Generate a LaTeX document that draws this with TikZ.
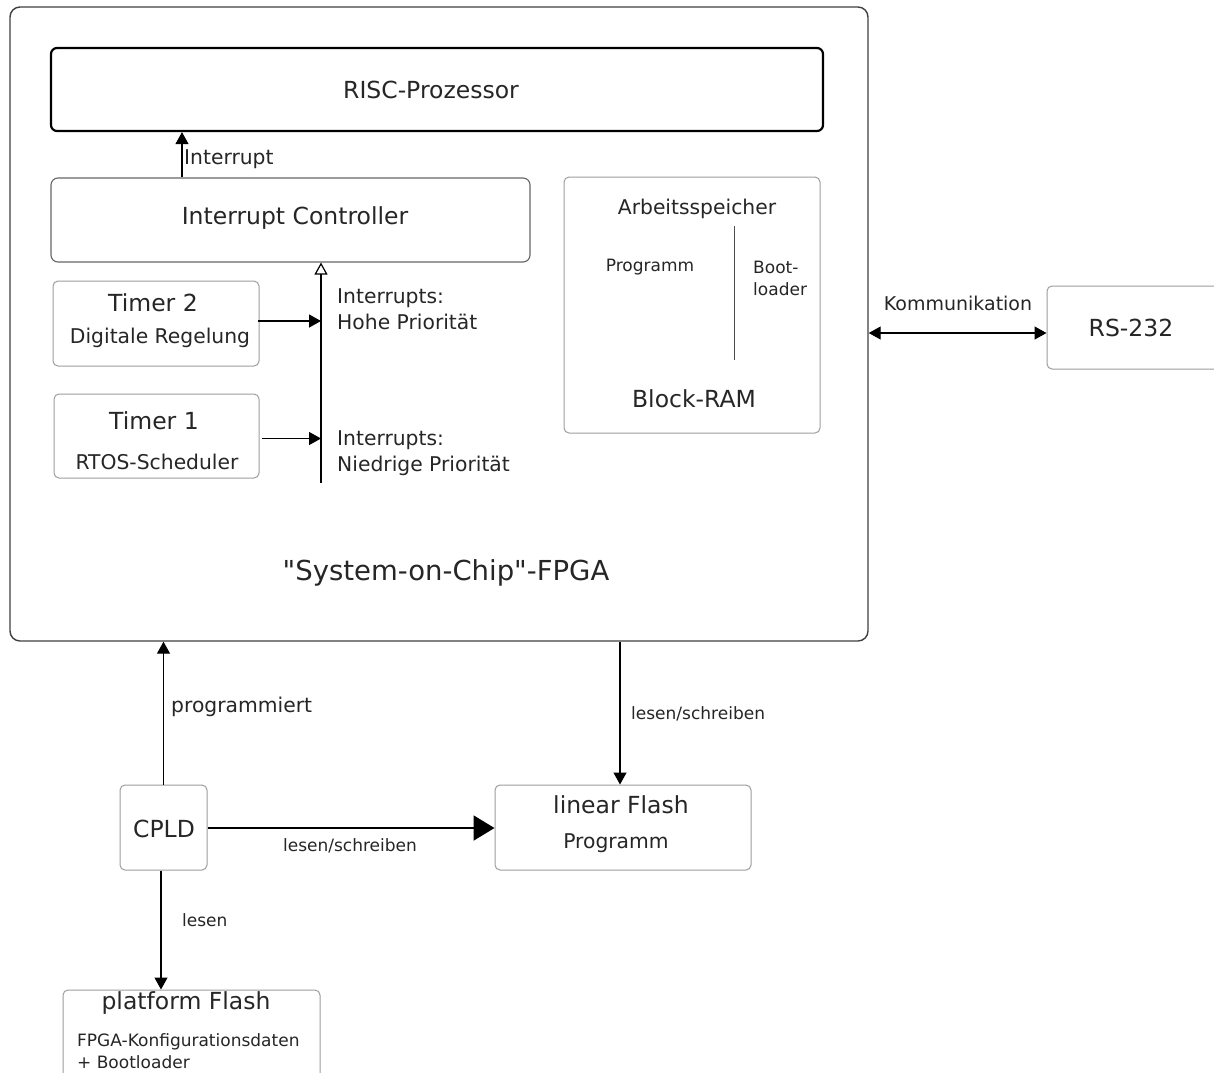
\documentclass[tikz,border=0pt]{standalone}
\usepackage{fontspec}
\setmainfont{DejaVu Sans}[Ligatures=TeXOff]
\usetikzlibrary{arrows.meta}
\begin{document}
\begin{tikzpicture}[x=1pt,y=-1pt,
  thinbox/.style={draw=black!38, line width=1pt, rounded corners=5pt, inner sep=0pt},
  midbox/.style={draw=black!60, line width=1.1pt, rounded corners=7pt, inner sep=0pt},
  txt/.style={inner sep=0pt, text=black!85},
  f17/.style={font=\fontsize{17}{22}\selectfont},
  f19/.style={font=\fontsize{19}{24}\selectfont},
  f20/.style={font=\fontsize{20.3}{26}\selectfont},
  f23/.style={font=\fontsize{23.5}{28}\selectfont},
  f27/.style={font=\fontsize{27.5}{32}\selectfont},
  >={Triangle[length=12pt,width=13pt]},
  arr/.style={draw=black, line width=1.2pt, ->},
]
\clip (0,0) rectangle (1214,1072);
\fill[white] (0,0) rectangle (1214,1072);

% System-on-Chip frame
\node[draw=black!75, line width=1.4pt, rounded corners=10pt, inner sep=0pt,
      minimum width=858pt, minimum height=634pt] (soc) at (439,324) {};
\node[txt,f27] (soclabel) at (446,573) {"System-on-Chip"-FPGA};

% processor and interrupt controller
\node[draw=black, line width=2.2pt, rounded corners=6pt, inner sep=0pt,
      minimum width=772pt, minimum height=83pt] (risc) at (437,89.5) {};
\node[txt,f23] (risclabel) at (431,90) {RISC-Prozessor};

\node[midbox, minimum width=479pt, minimum height=84pt] (ic) at (290.5,220) {};
\node[txt,f23] (iclabel) at (295,218) {Interrupt Controller};

% timers
\node[thinbox, minimum width=206pt, minimum height=85pt] (t2) at (156,323.5) {};
\node[txt,f23] (t2a) at (153,303) {Timer 2};
\node[txt,f20] (t2b) at (160,338) {Digitale Regelung};

\node[thinbox, minimum width=205pt, minimum height=84pt] (t1) at (156.5,436) {};
\node[txt,f23] (t1a) at (154,421) {Timer 1};
\node[txt,f20] (t1b) at (157,462) {RTOS-Scheduler};

% block RAM
\node[thinbox, minimum width=256pt, minimum height=256pt] (bram) at (692,305) {};
\node[txt,f20] (bramtop) at (697,209) {Arbeitsspeicher};
\node[txt,f17] (bramprog) at (650,267) {Programm};
\node[txt,f17, align=left, anchor=west] (bramboot) at (753,278) {Boot-\\loader};
\node[txt,f23] (bramname) at (694,399) {Block-RAM};
\coordinate (splittop) at (734,226);
\coordinate (splitbot) at (734,360);
\draw[black!70, line width=1pt] (splittop) -- (splitbot);

% interrupt path
\coordinate (irqx) at (182,0);
\draw[arr] (ic.north -| irqx) -- (risc.south -| irqx);
\node[txt,f20, anchor=west] (irqlabel) at (184,159) {Interrupt};

\coordinate (busend) at (321,483);
\draw[draw=black, line width=1.2pt, -{Triangle[open,length=12pt,width=13pt]}] (busend) -- (ic.south -| busend);
\draw[arr] ([xshift=-2pt,yshift=2.5pt]t2.east) -- ([yshift=2.5pt]t2.east -| busend);
\draw[arr] ([xshift=2pt,yshift=-2.5pt]t1.east) -- ([yshift=-2.5pt]t1.east -| busend);
\node[txt,f20, align=left, anchor=west] (hiprio) at (337,309) {Interrupts:\\Hohe Priorität};
\node[txt,f20, align=left, anchor=west] (loprio) at (337,453) {Interrupts:\\Niedrige Priorität};

% serial link
\node[thinbox, minimum width=213pt, minimum height=83pt] (rs) at (1153.5,327.5) {};
\node[txt,f23] (rslabel) at (1131,328) {RS-232};
\coordinate (commy) at (0,333);
\draw[draw=black, line width=1.2pt, <->]
  (soc.east |- commy) -- (rs.west |- commy);
\node[txt,f19] (commlabel) at (958,303) {Kommunikation};

% external parts
\node[thinbox, minimum width=87pt, minimum height=85pt] (cpld) at (163.5,827.5) {};
\node[txt,f23] (cpldlabel) at (164,829) {CPLD};

\node[thinbox, minimum width=256pt, minimum height=85pt] (lf) at (623,827.5) {};
\node[txt,f23] (lfa) at (621,805) {linear Flash};
\node[txt,f20] (lfb) at (616,843) {Programm};

\node[thinbox, minimum width=257pt, minimum height=120pt] (pf) at (191.5,1050) {};
\node[txt,f23] (pfa) at (186,1003) {platform Flash};
\node[txt,f17, align=left, anchor=west] (pfb) at (77,1051) {FPGA-Konfigurationsdaten\\+ Bootloader};

% connections to the outside
\draw[arr] (cpld.north) -- (soc.south -| cpld.north);
\node[txt,f20, anchor=west] (proglabel) at (171,707) {programmiert};

\coordinate (rwx) at (620,0);
\draw[arr] (soc.south -| rwx) -- (lf.north -| rwx);
\node[txt,f17, anchor=west] (rwlabel1) at (631,714) {lesen/schreiben};

\coordinate (cpldy) at (0,828);
\draw[draw=black, line width=2pt, -{Triangle[length=21pt,width=25pt]}] (cpld.east |- cpldy) -- (lf.west |- cpldy);
\node[txt,f17] (rwlabel2) at (350,846) {lesen/schreiben};

\coordinate (rdx) at (161,0);
\draw[arr] (cpld.south -| rdx) -- (pf.north -| rdx);
\node[txt,f17, anchor=west] (rdlabel) at (182,920) {lesen};
\end{tikzpicture}
\end{document}
